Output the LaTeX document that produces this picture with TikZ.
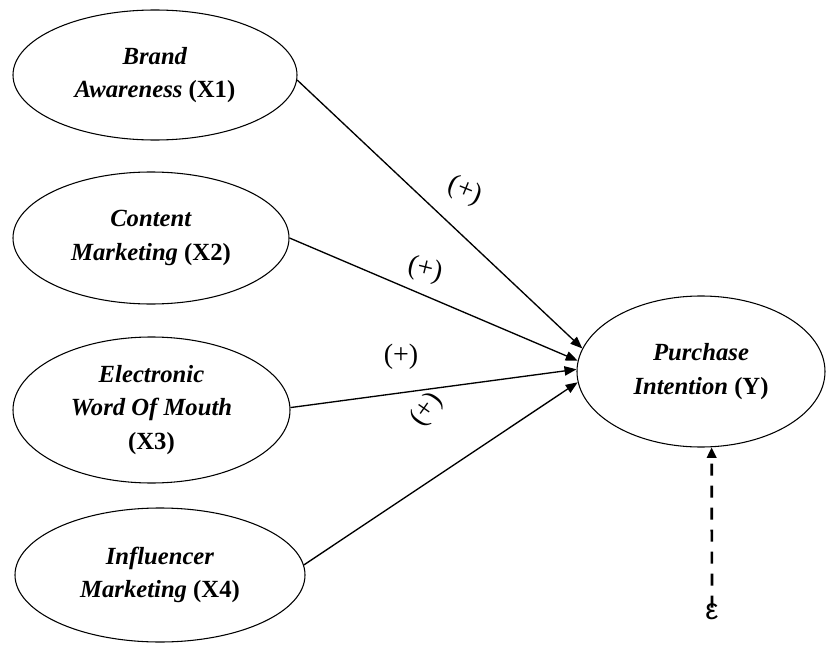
\documentclass[tikz,border=0pt]{standalone}
\usepackage{fontspec}
\setmainfont{Liberation Serif}
\newfontfamily\labfont{Liberation Sans}
\usetikzlibrary{shapes.geometric,arrows.meta}
\begin{document}
\begin{tikzpicture}[x=0.75pt,y=-0.75pt,
  var/.style={ellipse,draw,line width=0.8pt,inner sep=0pt,align=center,
    font=\fontsize{18.5}{25}\selectfont\bfseries},
  link/.style={line width=1pt,-{Triangle[length=9pt,width=7pt]}},
  sign/.style={font=\fontsize{21}{23}\selectfont,inner sep=0.5pt}]
\useasboundingbox (0,0) rectangle (826,646);
\node[var,minimum width=213pt,minimum height=97.5pt] (e1) at (155,75)
  {\textit{Brand}\\\textit{Awareness} (X1)};
\node[var,minimum width=207pt,minimum height=99pt] (e2) at (151,238)
  {\textit{Content}\\\textit{Marketing} (X2)};
\node[var,minimum width=207.75pt,minimum height=109.5pt] (e3) at (151.5,410)
  {\textit{Electronic}\\\textit{Word Of Mouth}\\(X3)};
\node[var,minimum width=217.5pt,minimum height=100.5pt] (e4) at (160,575)
  {\textit{Influencer}\\\textit{Marketing} (X4)};
\node[var,minimum width=186pt,minimum height=113.25pt] (y) at (701,371.5)
  {\textit{Purchase}\\\textit{Intention} (Y)};
\node[font=\labfont\fontsize{22}{24}\selectfont,inner sep=1pt] (eps) at (712,612) {ε};

\draw[link] (e1.-2) -- (y.169);
\draw[link] (e2.east) -- (y.175);
\draw[link] (e3.1) -- (y.179.5);
\draw[link] (e4.4) -- (y.185);
\draw[line width=2pt,dash pattern=on 9pt off 7.5pt,-{Triangle[length=8pt,width=7pt]}]
  ([yshift=-4pt]eps.north) -- (y.278);

\node[sign,rotate=-22] (s1) at (465,191) {(+)};
\node[sign,rotate=-14] (s2) at (425,270) {(+)};
\node[sign] (s3) at (401,357) {(+)};
\node[sign,rotate=55] (s4) at (427,410) {(+)};
\end{tikzpicture}
\end{document}
